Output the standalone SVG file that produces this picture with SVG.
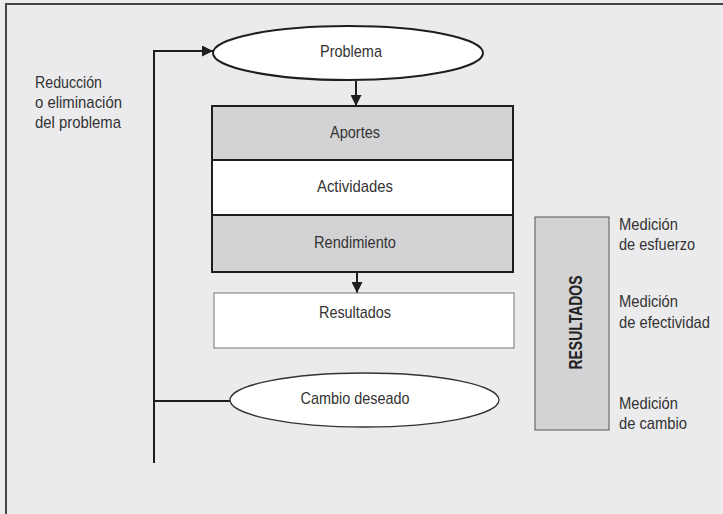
<svg xmlns="http://www.w3.org/2000/svg" width="723" height="514" viewBox="0 0 723 514">
  <defs>
    <marker id="arrow" viewBox="0 0 10 10" refX="10" refY="5" markerWidth="11" markerHeight="11" markerUnits="userSpaceOnUse" orient="auto">
      <path d="M0,0 L10,5 L0,10 z" fill="#1e1e1e"/>
    </marker>
    <style>
      .lbl { font-family: "Liberation Sans", Arial, sans-serif; font-size: 17px; fill: #333; }
      .mid { text-anchor: middle; }
      .bold { font-weight: bold; fill: #222; }
      .conn { stroke: #1e1e1e; stroke-width: 2; fill: none; }
      .gray { fill: #d3d3d5; }
      .white { fill: #ffffff; }
    </style>
  </defs>

  <!-- page background and frame -->
  <rect x="0" y="0" width="723" height="514" fill="#ebebed"/>
  <rect x="6" y="4" width="730" height="530" fill="none" stroke="#444" stroke-width="2"/>

  <!-- connectors -->
  <g id="connectors">
    <polyline class="conn" points="154,463 154,51 213,51" marker-end="url(#arrow)"/>
    <line class="conn" x1="154" y1="401" x2="230" y2="401"/>
    <line class="conn" x1="356" y1="81" x2="356" y2="106" marker-end="url(#arrow)"/>
    <line class="conn" x1="357" y1="272" x2="357" y2="293" marker-end="url(#arrow)"/>
  </g>

  <g id="problema">
    <ellipse cx="348" cy="53" rx="135" ry="27" class="white" stroke="#1e1e1e" stroke-width="2"/>
    <text class="lbl mid" x="351" y="57" textLength="62" lengthAdjust="spacingAndGlyphs">Problema</text>
  </g>

  <g id="aportes">
    <rect x="212" y="106" width="301" height="54" class="gray" stroke="#1e1e1e" stroke-width="2"/>
    <text class="lbl mid" x="355" y="138" textLength="50" lengthAdjust="spacingAndGlyphs">Aportes</text>
  </g>

  <g id="actividades">
    <rect x="212" y="160" width="301" height="55" class="white" stroke="#1e1e1e" stroke-width="2"/>
    <text class="lbl mid" x="355" y="192" textLength="76" lengthAdjust="spacingAndGlyphs">Actividades</text>
  </g>

  <g id="rendimiento">
    <rect x="212" y="215" width="301" height="57" class="gray" stroke="#1e1e1e" stroke-width="2"/>
    <text class="lbl mid" x="355" y="248" textLength="82" lengthAdjust="spacingAndGlyphs">Rendimiento</text>
  </g>

  <g id="resultados">
    <rect x="214" y="293" width="300" height="55" class="white" stroke="#777" stroke-width="1"/>
    <text class="lbl mid" x="355" y="318" textLength="72" lengthAdjust="spacingAndGlyphs">Resultados</text>
  </g>

  <g id="cambio-deseado">
    <ellipse cx="364.5" cy="400" rx="134.5" ry="27" class="white" stroke="#333" stroke-width="1.3"/>
    <text class="lbl mid" x="355" y="404" textLength="109" lengthAdjust="spacingAndGlyphs">Cambio deseado</text>
  </g>

  <g id="resultados-barra">
    <rect x="535" y="217" width="74" height="213" class="gray" stroke="#555" stroke-width="1"/>
    <text class="lbl mid bold" transform="translate(582,322.5) rotate(-90)" style="font-size:19px" textLength="94" lengthAdjust="spacingAndGlyphs">RESULTADOS</text>
  </g>

  <g id="reduccion">
    <text class="lbl" x="35" y="88" textLength="67" lengthAdjust="spacingAndGlyphs">Reducción</text>
    <text class="lbl" x="35" y="108" textLength="87" lengthAdjust="spacingAndGlyphs">o eliminación</text>
    <text class="lbl" x="35" y="128" textLength="86" lengthAdjust="spacingAndGlyphs">del problema</text>
  </g>

  <g id="medicion-esfuerzo">
    <text class="lbl" x="619" y="230" textLength="59" lengthAdjust="spacingAndGlyphs">Medición</text>
    <text class="lbl" x="619" y="250" textLength="76" lengthAdjust="spacingAndGlyphs">de esfuerzo</text>
  </g>

  <g id="medicion-efectividad">
    <text class="lbl" x="619" y="307" textLength="59" lengthAdjust="spacingAndGlyphs">Medición</text>
    <text class="lbl" x="619" y="328" textLength="91" lengthAdjust="spacingAndGlyphs">de efectividad</text>
  </g>

  <g id="medicion-cambio">
    <text class="lbl" x="619" y="409" textLength="59" lengthAdjust="spacingAndGlyphs">Medición</text>
    <text class="lbl" x="619" y="429" textLength="68" lengthAdjust="spacingAndGlyphs">de cambio</text>
  </g>
</svg>
